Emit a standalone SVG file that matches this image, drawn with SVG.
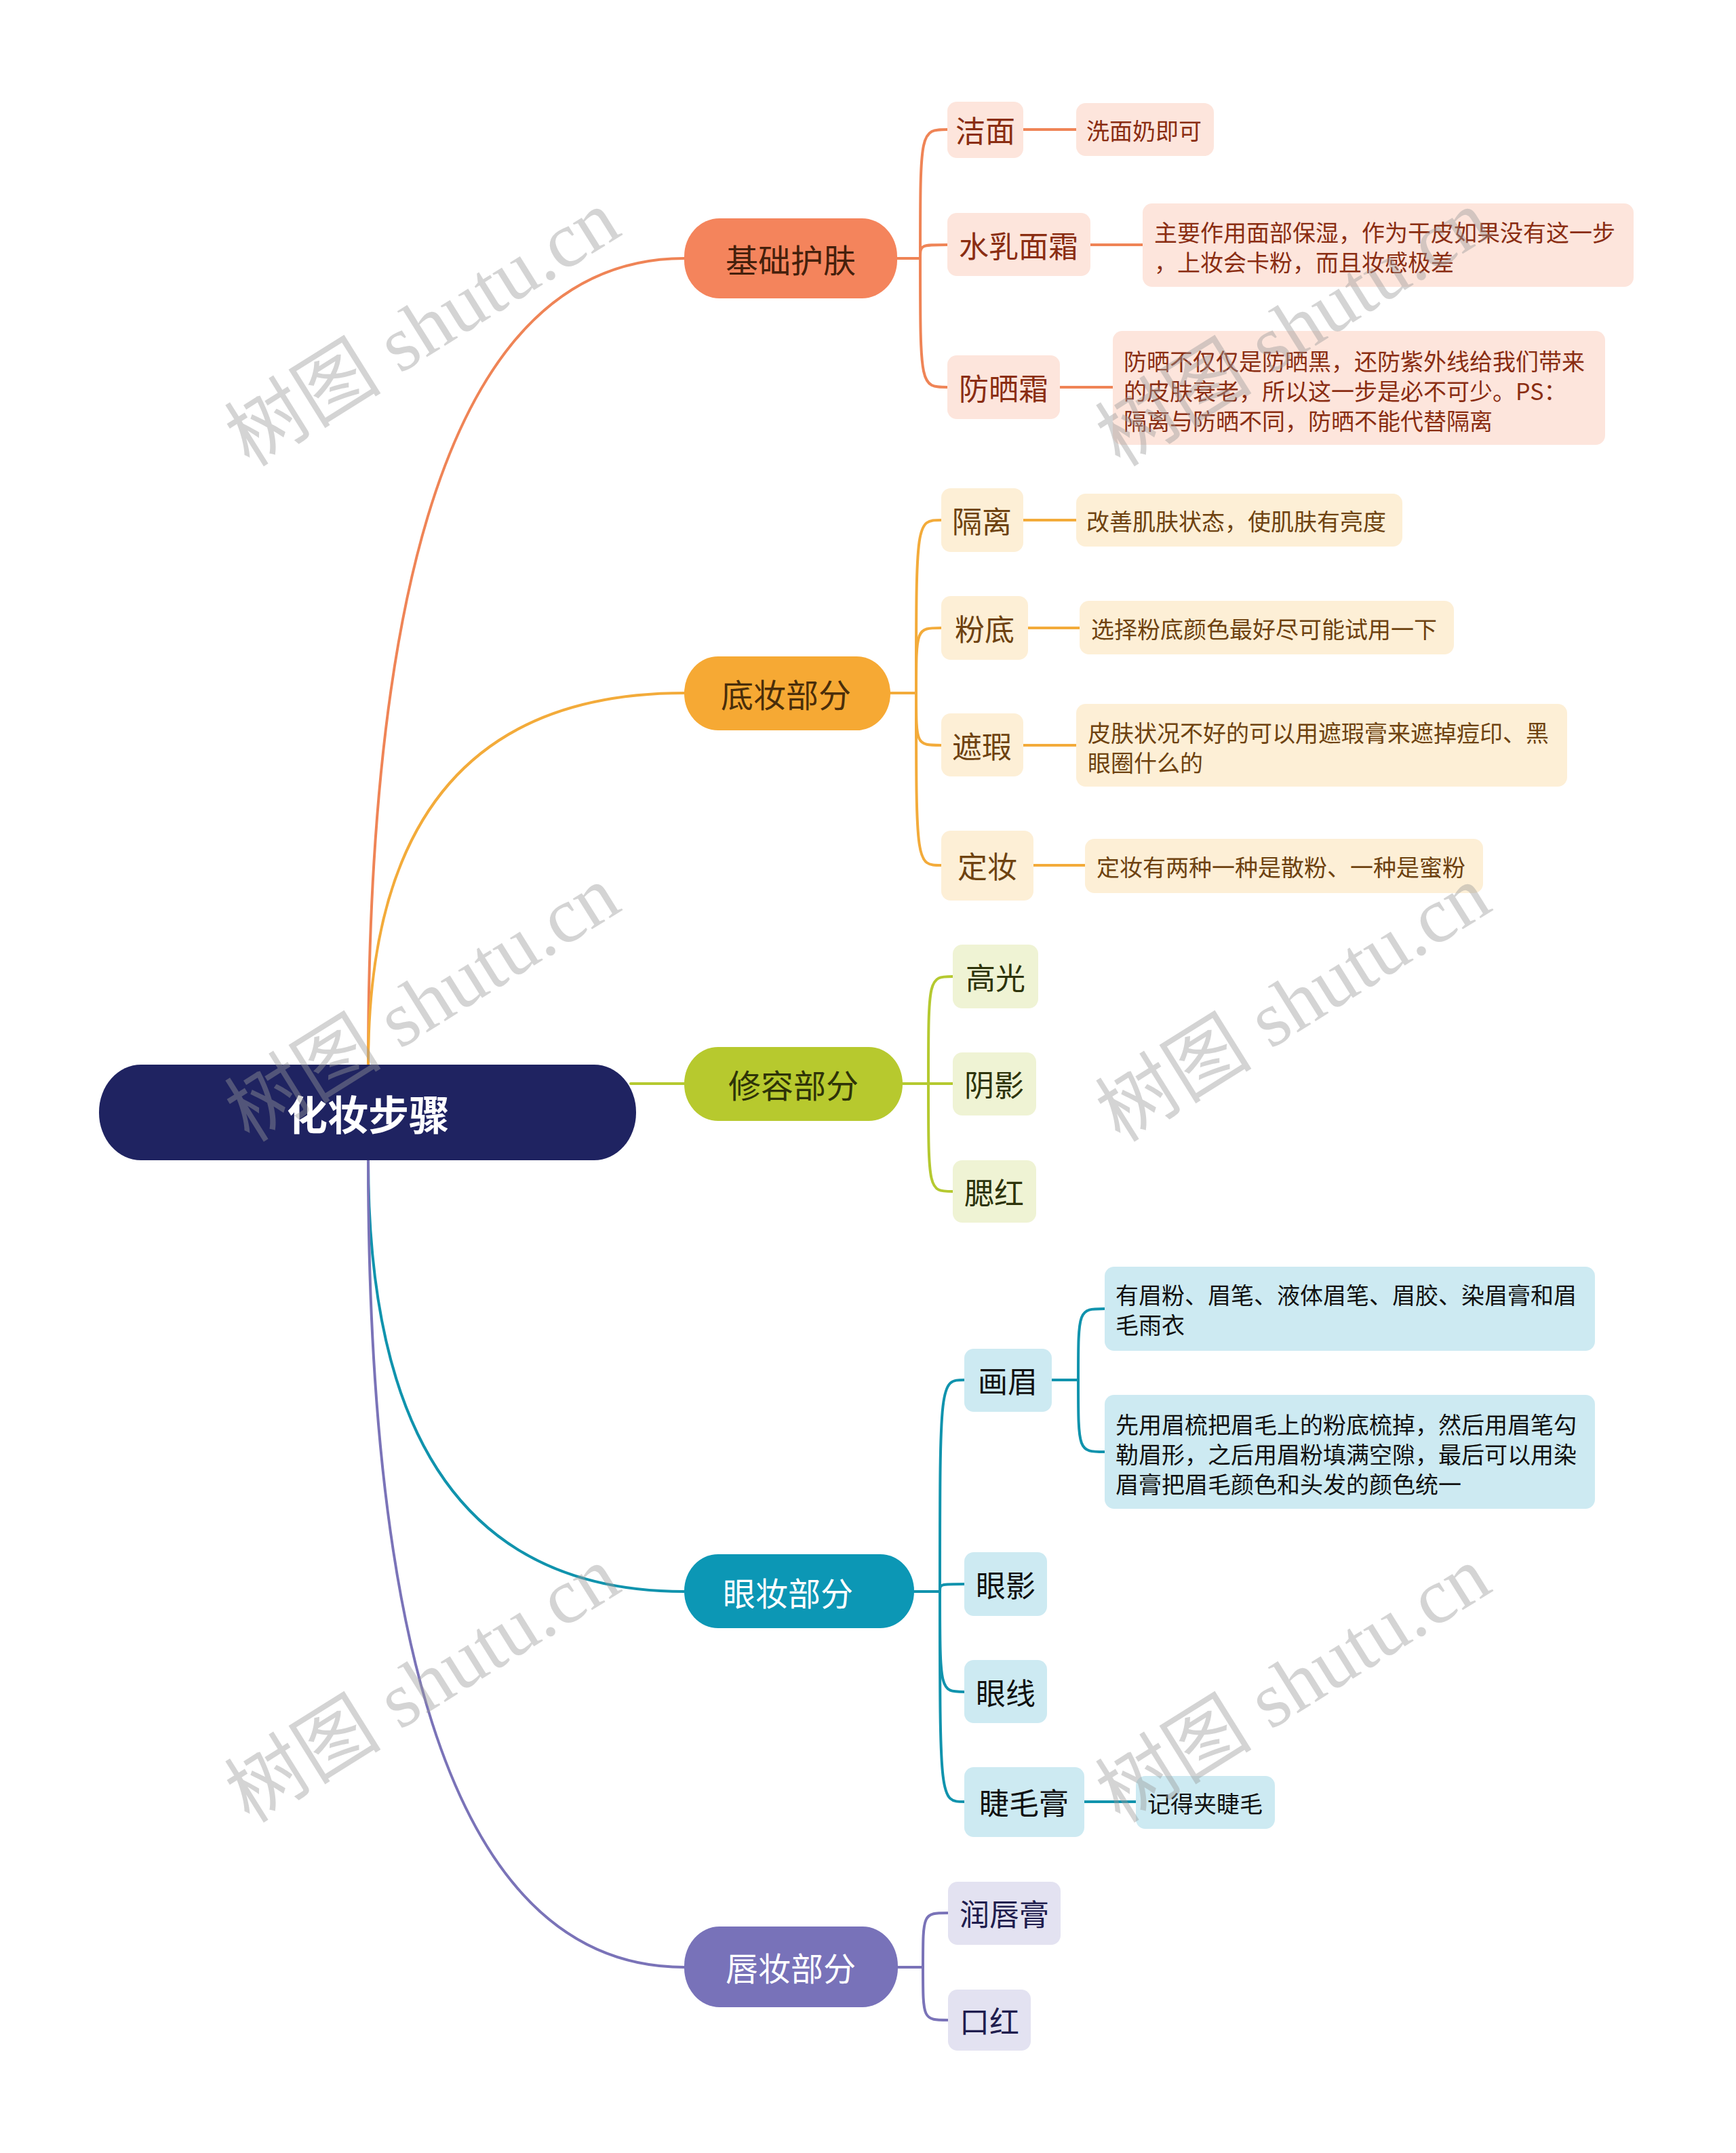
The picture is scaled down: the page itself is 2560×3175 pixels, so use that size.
<svg xmlns="http://www.w3.org/2000/svg" width="2560" height="3175" viewBox="0 0 2560 3175">
<style>
.c{fill:none;stroke-width:4;stroke-linecap:round;stroke-linejoin:round}
.t{font-family:"Noto Sans CJK SC","Noto Sans CJK JP",sans-serif;dominant-baseline:central}
.m{text-anchor:middle}
.f48{font-size:48px}
.f44{font-size:44px}
.f34{font-size:34px}
.wm{font-family:"Liberation Serif","Noto Sans CJK SC",serif;font-size:116px;fill:#9a9a9a;opacity:0.42}
</style>
<rect x="0" y="0" width="2560" height="3175" fill="#ffffff"/>

<g id="connectors">
  <path class="c" stroke="#ef8456" d="M543,1570 Q543,381 1009,381"/>
  <path class="c" stroke="#f3ab3a" d="M543,1570 Q543,1022 1009,1022"/>
  <path class="c" stroke="#b5c930" d="M930,1598 H1009"/>
  <path class="c" stroke="#1093ad" d="M543,1711 Q543,2347 1009,2347"/>
  <path class="c" stroke="#7a73b8" d="M543,1711 Q543,2901 1009,2901"/>
  <g stroke="#ef8456">
    <path class="c" d="M1323,381 H1357 C1357,191 1357,191 1397,191"/>
    <path class="c" d="M1323,381 H1357 C1357,361 1357,361 1397,361"/>
    <path class="c" d="M1323,381 H1357 C1357,571 1357,571 1397,571"/>
    <path class="c" d="M1509,191 H1587"/>
    <path class="c" d="M1608,361 H1685"/>
    <path class="c" d="M1563,571 H1641"/>
  </g>
  <g stroke="#f3ab3a">
    <path class="c" d="M1313,1022 H1351 C1351,767 1351,767 1388,767"/>
    <path class="c" d="M1313,1022 H1351 C1351,926 1351,926 1388,926"/>
    <path class="c" d="M1313,1022 H1351 C1351,1099 1351,1099 1388,1099"/>
    <path class="c" d="M1313,1022 H1351 C1351,1276 1351,1276 1388,1276"/>
    <path class="c" d="M1509,767 H1587"/>
    <path class="c" d="M1516,926 H1592"/>
    <path class="c" d="M1509,1099 H1587"/>
    <path class="c" d="M1524,1276 H1600"/>
  </g>
  <g stroke="#b5c930">
    <path class="c" d="M1331,1598 H1369 C1369,1440 1369,1440 1405,1440"/>
    <path class="c" d="M1331,1598 H1405"/>
    <path class="c" d="M1331,1598 H1369 C1369,1757 1369,1757 1405,1757"/>
  </g>
  <g stroke="#1093ad">
    <path class="c" d="M1348,2347 H1386 C1386,2035 1386,2035 1422,2035"/>
    <path class="c" d="M1348,2347 H1386 C1386,2336 1386,2336 1422,2336"/>
    <path class="c" d="M1348,2347 H1386 C1386,2495 1386,2495 1422,2495"/>
    <path class="c" d="M1348,2347 H1386 C1386,2657 1386,2657 1422,2657"/>
    <path class="c" d="M1551,2035 H1590 C1590,1930 1590,1930 1629,1930"/>
    <path class="c" d="M1551,2035 H1590 C1590,2141 1590,2141 1629,2141"/>
    <path class="c" d="M1599,2657 H1675"/>
  </g>
  <g stroke="#7a73b8">
    <path class="c" d="M1324,2901 H1361 C1361,2821 1361,2821 1398,2821"/>
    <path class="c" d="M1324,2901 H1361 C1361,2979 1361,2979 1398,2979"/>
  </g>
</g>

<g id="root">
  <rect x="146" y="1570" width="792" height="141" rx="62" ry="70" fill="#1f2361"/>
  <text class="t m" x="543" y="1640" font-size="60" font-weight="bold" fill="#ffffff">化妆步骤</text>
</g>

<g id="n-jichu">
  <rect x="1009" y="322" width="314" height="118" rx="52" ry="56" fill="#f4845c"/>
  <text class="t m f48" x="1166" y="381" fill="#45200c">基础护肤</text>
</g>
<g id="n-jiemian">
  <rect x="1397" y="150" width="112" height="83" rx="14" fill="#fde5dc"/>
  <text class="t m f44" x="1453" y="191" fill="#8a2d12">洁面</text>
</g>
<g id="n-jiemian-1">
  <rect x="1587" y="152" width="203" height="78" rx="14" fill="#fde5dc"/>
  <text class="t f34" x="1602" y="191" fill="#8a2d12">洗面奶即可</text>
</g>
<g id="n-shuiru">
  <rect x="1397" y="314" width="211" height="93" rx="14" fill="#fde5dc"/>
  <text class="t m f44" x="1502" y="361" fill="#8a2d12">水乳面霜</text>
</g>
<g id="n-shuiru-1">
  <rect x="1685" y="300" width="724" height="123" rx="14" fill="#fde5dc"/>
  <text class="t f34" fill="#8a2d12"><tspan x="1702" y="341">主要作用面部保湿，作为干皮如果没有这一步</tspan><tspan x="1702" y="385">，上妆会卡粉，而且妆感极差</tspan></text>
</g>
<g id="n-fangshai">
  <rect x="1397" y="524" width="166" height="94" rx="14" fill="#fde5dc"/>
  <text class="t m f44" x="1480" y="571" fill="#8a2d12">防晒霜</text>
</g>
<g id="n-fangshai-1">
  <rect x="1641" y="488" width="726" height="168" rx="14" fill="#fde5dc"/>
  <text class="t f34" fill="#8a2d12"><tspan x="1657" y="531">防晒不仅仅是防晒黑，还防紫外线给我们带来</tspan><tspan x="1657" y="575">的皮肤衰老，所以这一步是必不可少。PS：</tspan><tspan x="1657" y="619">隔离与防晒不同，防晒不能代替隔离</tspan></text>
</g>

<g id="n-dizhuang">
  <rect x="1009" y="968" width="304" height="109" rx="50" ry="54" fill="#f6a934"/>
  <text class="t m f48" x="1159" y="1022" fill="#4a2e0a">底妆部分</text>
</g>
<g id="n-geli">
  <rect x="1388" y="720" width="121" height="94" rx="14" fill="#fdefd6"/>
  <text class="t m f44" x="1448" y="767" fill="#6e4210">隔离</text>
</g>
<g id="n-geli-1">
  <rect x="1587" y="728" width="481" height="78" rx="14" fill="#fdefd6"/>
  <text class="t f34" x="1602" y="767" fill="#6e4210">改善肌肤状态，使肌肤有亮度</text>
</g>
<g id="n-fendi">
  <rect x="1388" y="879" width="128" height="94" rx="14" fill="#fdefd6"/>
  <text class="t m f44" x="1452" y="926" fill="#6e4210">粉底</text>
</g>
<g id="n-fendi-1">
  <rect x="1592" y="886" width="552" height="79" rx="14" fill="#fdefd6"/>
  <text class="t f34" x="1609" y="926" fill="#6e4210">选择粉底颜色最好尽可能试用一下</text>
</g>
<g id="n-zhexia">
  <rect x="1388" y="1052" width="121" height="93" rx="14" fill="#fdefd6"/>
  <text class="t m f44" x="1448" y="1099" fill="#6e4210">遮瑕</text>
</g>
<g id="n-zhexia-1">
  <rect x="1587" y="1038" width="724" height="122" rx="14" fill="#fdefd6"/>
  <text class="t f34" fill="#6e4210"><tspan x="1604" y="1079">皮肤状况不好的可以用遮瑕膏来遮掉痘印、黑</tspan><tspan x="1604" y="1123">眼圈什么的</tspan></text>
</g>
<g id="n-dingzhuang">
  <rect x="1388" y="1225" width="136" height="103" rx="14" fill="#fdefd6"/>
  <text class="t m f44" x="1456" y="1276" fill="#6e4210">定妆</text>
</g>
<g id="n-dingzhuang-1">
  <rect x="1600" y="1237" width="587" height="80" rx="14" fill="#fdefd6"/>
  <text class="t f34" x="1617" y="1277" fill="#6e4210">定妆有两种一种是散粉、一种是蜜粉</text>
</g>

<g id="n-xiurong">
  <rect x="1009" y="1544" width="322" height="109" rx="50" ry="54" fill="#b7c92e"/>
  <text class="t m f48" x="1170" y="1598" fill="#2e3308">修容部分</text>
</g>
<g id="n-gaoguang">
  <rect x="1405" y="1393" width="126" height="94" rx="14" fill="#eff3d4"/>
  <text class="t m f44" x="1468" y="1440" fill="#2d330a">高光</text>
</g>
<g id="n-yinying">
  <rect x="1405" y="1552" width="123" height="93" rx="14" fill="#eff3d4"/>
  <text class="t m f44" x="1466" y="1598" fill="#2d330a">阴影</text>
</g>
<g id="n-saihong">
  <rect x="1405" y="1711" width="123" height="92" rx="14" fill="#eff3d4"/>
  <text class="t m f44" x="1466" y="1757" fill="#2d330a">腮红</text>
</g>

<g id="n-yanzhuang">
  <rect x="1009" y="2292" width="339" height="109" rx="50" ry="54" fill="#0c97b5"/>
  <text class="t m f48" x="1162" y="2347" fill="#ffffff">眼妆部分</text>
</g>
<g id="n-huamei">
  <rect x="1422" y="1989" width="129" height="93" rx="14" fill="#cdeaf2"/>
  <text class="t m f44" x="1486" y="2035" fill="#111111">画眉</text>
</g>
<g id="n-huamei-1">
  <rect x="1629" y="1868" width="723" height="124" rx="14" fill="#cdeaf2"/>
  <text class="t f34" fill="#111111"><tspan x="1645" y="1908">有眉粉、眉笔、液体眉笔、眉胶、染眉膏和眉</tspan><tspan x="1645" y="1952">毛雨衣</tspan></text>
</g>
<g id="n-huamei-2">
  <rect x="1629" y="2057" width="723" height="168" rx="14" fill="#cdeaf2"/>
  <text class="t f34" fill="#111111"><tspan x="1645" y="2099">先用眉梳把眉毛上的粉底梳掉，然后用眉笔勾</tspan><tspan x="1645" y="2143">勒眉形，之后用眉粉填满空隙，最后可以用染</tspan><tspan x="1645" y="2187">眉膏把眉毛颜色和头发的颜色统一</tspan></text>
</g>
<g id="n-yanying">
  <rect x="1422" y="2289" width="122" height="94" rx="14" fill="#cdeaf2"/>
  <text class="t m f44" x="1483" y="2336" fill="#111111">眼影</text>
</g>
<g id="n-yanxian">
  <rect x="1422" y="2448" width="122" height="93" rx="14" fill="#cdeaf2"/>
  <text class="t m f44" x="1483" y="2495" fill="#111111">眼线</text>
</g>
<g id="n-jiemaogao">
  <rect x="1422" y="2606" width="177" height="103" rx="14" fill="#cdeaf2"/>
  <text class="t m f44" x="1510" y="2657" fill="#111111">睫毛膏</text>
</g>
<g id="n-jiemaogao-1">
  <rect x="1675" y="2619" width="205" height="78" rx="14" fill="#cdeaf2"/>
  <text class="t f34" x="1692" y="2658" fill="#111111">记得夹睫毛</text>
</g>

<g id="n-chunzhuang">
  <rect x="1009" y="2841" width="315" height="119" rx="52" ry="58" fill="#7872b9"/>
  <text class="t m f48" x="1166" y="2900" fill="#ffffff">唇妆部分</text>
</g>
<g id="n-runchungao">
  <rect x="1398" y="2775" width="166" height="93" rx="14" fill="#e3e2f1"/>
  <text class="t m f44" x="1481" y="2821" fill="#1f1d4e">润唇膏</text>
</g>
<g id="n-kouhong">
  <rect x="1398" y="2934" width="122" height="90" rx="14" fill="#e3e2f1"/>
  <text class="t m f44" x="1459" y="2979" fill="#1f1d4e">口红</text>
</g>

<g id="watermarks">
  <text class="wm" transform="translate(368,690) rotate(-32)">树图 shutu.cn</text>
  <text class="wm" transform="translate(1652,690) rotate(-32)">树图 shutu.cn</text>
  <text class="wm" transform="translate(368,1686) rotate(-32)">树图 shutu.cn</text>
  <text class="wm" transform="translate(1652,1686) rotate(-32)">树图 shutu.cn</text>
  <text class="wm" transform="translate(368,2690) rotate(-32)">树图 shutu.cn</text>
  <text class="wm" transform="translate(1652,2690) rotate(-32)">树图 shutu.cn</text>
</g>
</svg>
